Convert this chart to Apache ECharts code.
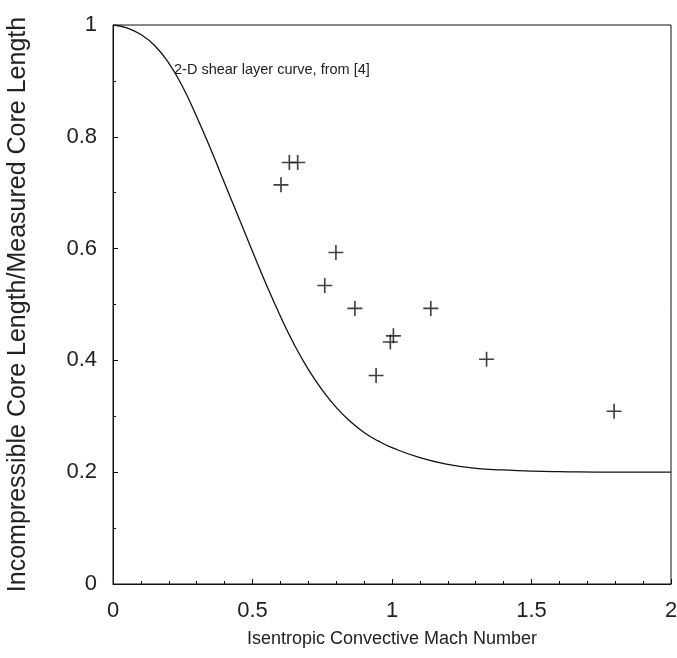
<!DOCTYPE html>
<html>
<head>
    <meta charset="utf-8">
    <title>Core length vs convective Mach number</title>
    <script src="https://cdn.jsdelivr.net/npm/echarts@6/dist/echarts.min.js"></script>
    <style>
        html, body { margin: 0; padding: 0; background: #fff; }
        #main { width: 677px; height: 658px; }
    </style>
</head>
<body>
    <div id="main"></div>
    <script type="text/javascript">
        // measured points
        var machPts = [0.602, 0.632, 0.662, 0.759, 0.799, 0.867, 0.943, 0.994, 1.005, 1.139, 1.339, 1.796];
        var ratioPts = [0.714, 0.754, 0.754, 0.534, 0.593, 0.493, 0.373, 0.433, 0.444, 0.493, 0.402, 0.309];

        // 2-D shear layer curve
        var curveX = [0, 0.05, 0.1, 0.15, 0.2, 0.25, 0.3, 0.35, 0.4, 0.45, 0.5, 0.55, 0.6, 0.65, 0.7, 0.75, 0.8, 0.85, 0.9, 0.95, 1.0, 1.1, 1.2, 1.3, 1.4, 1.5, 1.6, 1.8, 2.0];
        var curveY = [1.0, 0.995, 0.983, 0.963, 0.932, 0.889, 0.836, 0.778, 0.717, 0.656, 0.595, 0.535, 0.479, 0.428, 0.384, 0.347, 0.316, 0.291, 0.271, 0.256, 0.244, 0.226, 0.214, 0.207, 0.204, 0.202, 0.201, 0.2, 0.2];

        var font = 'Liberation Sans, Arial, sans-serif';

        var chart = echarts.init(document.getElementById('main'));
        var option = {
            animation: false,
            grid: {
                left: 113,
                right: 6,
                top: 25,
                bottom: 74,
                outerBoundsMode: 'none',
                containLabel: false,
                show: true,
                borderColor: '#111',
                borderWidth: 1
            },
            xAxis: {
                type: 'value',
                min: 0,
                max: 2,
                interval: 0.5,
                name: 'Isentropic Convective Mach Number',
                nameLocation: 'middle',
                nameGap: 46,
                nameTextStyle: { fontFamily: font, fontSize: 18, color: '#222' },
                axisLine: { lineStyle: { color: '#111' } },
                axisTick: { inside: true, length: 5, lineStyle: { color: '#111' } },
                minorTick: { show: true, splitNumber: 5, length: 3, lineStyle: { color: '#111' } },
                splitLine: { show: false },
                axisLabel: {
                    margin: 16,
                    fontFamily: font,
                    fontSize: 22,
                    color: '#222',
                    showMaxLabel: true,
                    formatter: function(v) { return String(v); }
                }
            },
            yAxis: {
                type: 'value',
                min: 0,
                max: 1,
                interval: 0.2,
                name: 'Incompressible Core Length/Measured Core Length',
                nameLocation: 'middle',
                nameGap: 82,
                nameTextStyle: { fontFamily: font, fontSize: 25, color: '#222' },
                axisLine: { lineStyle: { color: '#111' } },
                axisTick: { inside: true, length: 5, lineStyle: { color: '#111' } },
                minorTick: { show: true, splitNumber: 2, length: 3, lineStyle: { color: '#111' } },
                splitLine: { show: false },
                axisLabel: {
                    margin: 16,
                    fontFamily: font,
                    fontSize: 22,
                    color: '#222',
                    formatter: function(v) { return String(v); }
                }
            },
            graphic: [{
                type: 'text',
                left: 174,
                top: 62,
                style: {
                    text: '2-D shear layer curve, from [4]',
                    font: '14.5px ' + font,
                    fill: '#222'
                }
            }],
            series: [{
                name: 'curve',
                type: 'line',
                smooth: 0.5,
                showSymbol: false,
                data: curveX.map(function(x, i) { return [x, curveY[i]]; }),
                lineStyle: { color: '#111', width: 1.3 }
            }, {
                name: 'measured',
                type: 'scatter',
                symbol: 'path://M0,4.45h10v1.1h-10zM4.45,0h1.1v10h-1.1z',
                symbolSize: 15,
                itemStyle: { color: '#111' },
                data: machPts.map(function(x, i) { return [x, ratioPts[i]]; })
            }]
        };
        chart.setOption(option);
    </script>
</body>
</html>
